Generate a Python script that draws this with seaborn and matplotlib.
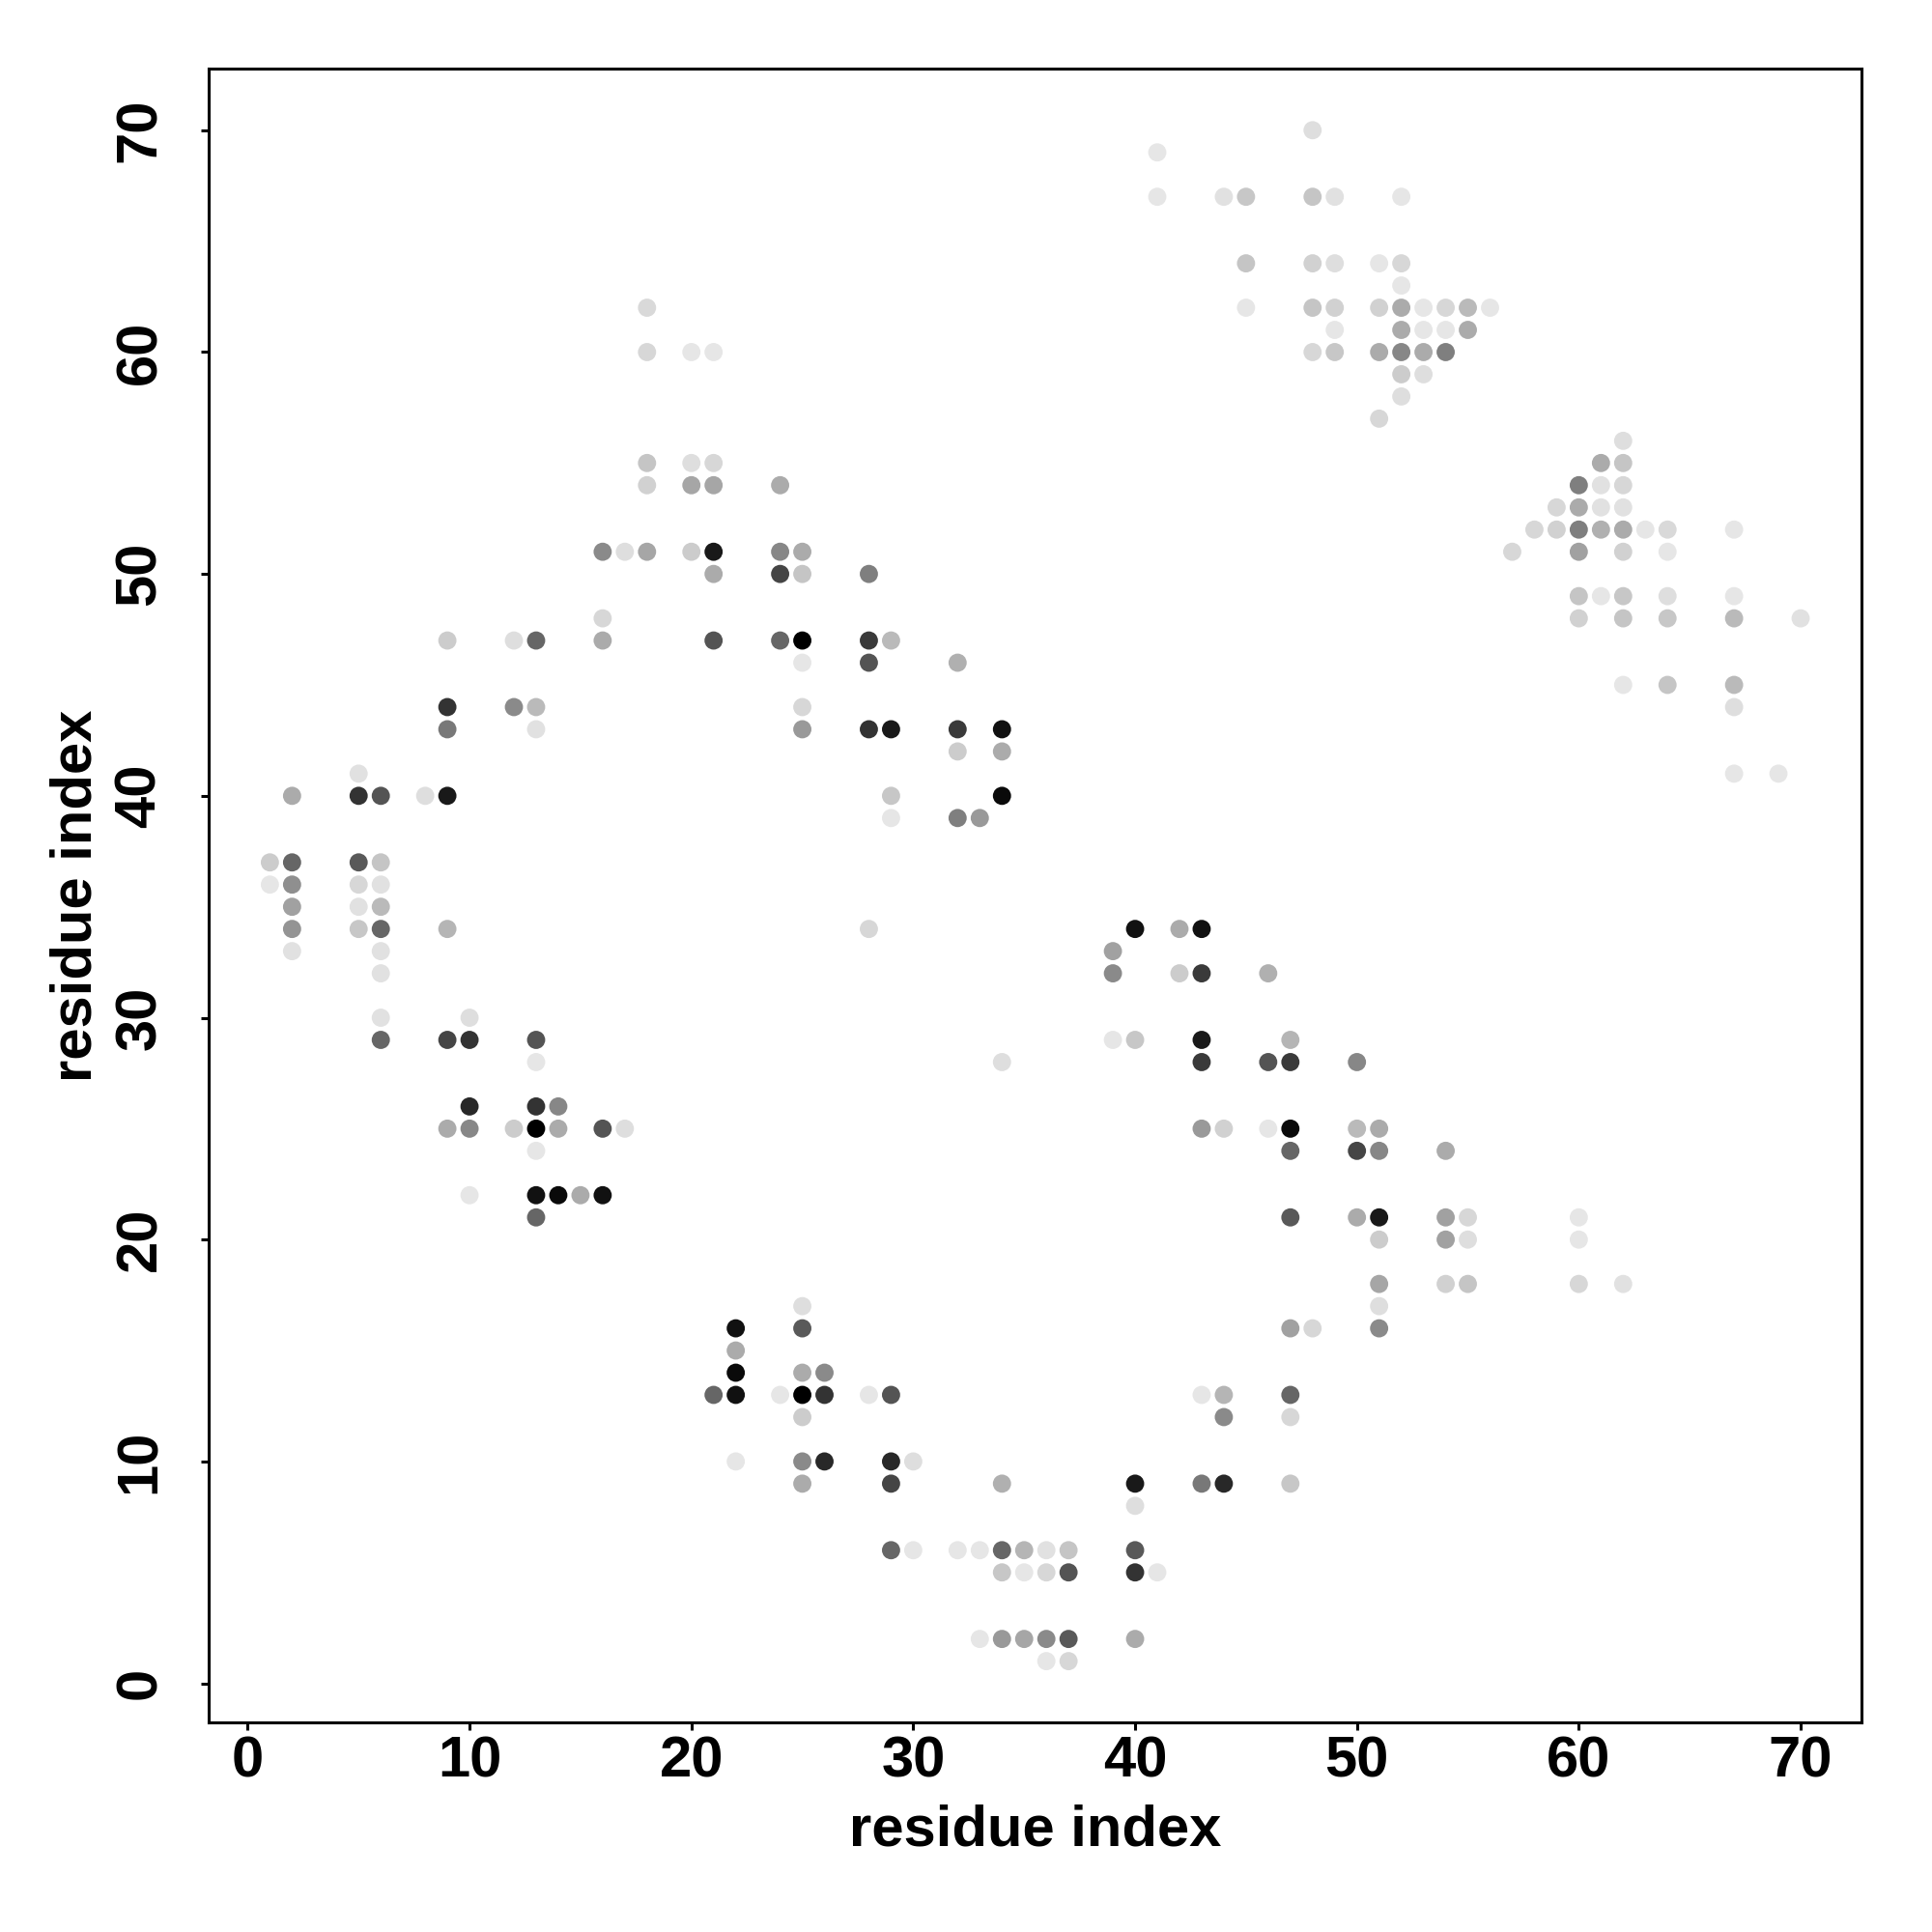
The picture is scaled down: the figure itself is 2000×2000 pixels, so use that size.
import matplotlib
matplotlib.use("Agg")
import matplotlib.pyplot as plt
import seaborn as sns
import pandas as pd

# contact map: residue i, residue j, contact strength (0 = white, 1 = black)
res_i = [1, 1,
         2, 2, 2, 2, 2, 2,
         5, 5, 5, 5, 5, 5,
         6, 6, 6, 6, 6, 6, 6, 6, 6,
         8,
         9, 9, 9, 9, 9, 9, 9,
         10, 10, 10, 10, 10,
         12, 12, 12,
         13, 13, 13, 13, 13, 13, 13, 13, 13, 13,
         14, 14, 14,
         15,
         16, 16, 16, 16, 16,
         17, 17,
         18, 18, 18, 18, 18,
         20, 20, 20, 20,
         21, 21, 21, 21, 21, 21, 21,
         22, 22, 22, 22, 22,
         24, 24, 24, 24, 24,
         25, 25, 25, 25, 25, 25, 25, 25, 25, 25, 25, 25, 25,
         26, 26, 26,
         28, 28, 28, 28, 28, 28,
         29, 29, 29, 29, 29, 29, 29, 29,
         30, 30,
         32, 32, 32, 32, 32,
         33, 33, 33,
         34, 34, 34, 34, 34, 34, 34, 34,
         35, 35, 35,
         36, 36, 36, 36,
         37, 37, 37, 37,
         39, 39, 39,
         40, 40, 40, 40, 40, 40, 40,
         41, 41, 41,
         42, 42,
         43, 43, 43, 43, 43, 43, 43,
         44, 44, 44, 44, 44,
         45, 45, 45,
         46, 46, 46,
         47, 47, 47, 47, 47, 47, 47, 47, 47,
         48, 48, 48, 48, 48, 48,
         49, 49, 49, 49, 49,
         50, 50, 50, 50,
         51, 51, 51, 51, 51, 51, 51, 51, 51, 51, 51,
         52, 52, 52, 52, 52, 52, 52, 52,
         53, 53, 53, 53,
         54, 54, 54, 54, 54, 54, 54,
         55, 55, 55, 55, 55,
         56, 57, 58,
         59, 59,
         60, 60, 60, 60, 60, 60, 60, 60, 60,
         61, 61, 61, 61, 61,
         62, 62, 62, 62, 62, 62, 62, 62, 62, 62,
         63,
         64, 64, 64, 64, 64,
         67, 67, 67, 67, 67, 67,
         69, 70]

res_j = [37, 36,
         40, 37, 36, 35, 34, 33,
         41, 40, 37, 36, 35, 34,
         40, 37, 36, 35, 34, 33, 32, 30, 29,
         40,
         47, 44, 43, 40, 34, 29, 25,
         30, 29, 26, 25, 22,
         47, 44, 25,
         47, 44, 43, 29, 28, 26, 25, 24, 22, 21,
         26, 25, 22,
         22,
         51, 48, 47, 25, 22,
         51, 25,
         62, 60, 55, 54, 51,
         60, 55, 54, 51,
         60, 55, 54, 51, 50, 47, 13,
         16, 15, 14, 13, 10,
         54, 51, 50, 47, 13,
         51, 50, 47, 46, 44, 43, 17, 16, 14, 13, 12, 10, 9,
         14, 13, 10,
         50, 47, 46, 43, 34, 13,
         47, 43, 40, 39, 13, 10, 9, 6,
         10, 6,
         46, 43, 42, 39, 6,
         39, 6, 2,
         43, 42, 40, 28, 9, 6, 5, 2,
         6, 5, 2,
         6, 5, 2, 1,
         6, 5, 2, 1,
         33, 32, 29,
         34, 29, 9, 8, 6, 5, 2,
         69, 67, 5,
         34, 32,
         34, 32, 29, 28, 25, 13, 9,
         67, 25, 13, 12, 9,
         67, 64, 62,
         32, 28, 25,
         29, 28, 25, 24, 21, 16, 13, 12, 9,
         70, 67, 64, 62, 60, 16,
         67, 64, 62, 61, 60,
         28, 25, 24, 21,
         64, 62, 60, 57, 25, 24, 21, 20, 18, 17, 16,
         67, 64, 63, 62, 61, 60, 59, 58,
         62, 61, 60, 59,
         62, 61, 60, 24, 21, 20, 18,
         62, 61, 21, 20, 18,
         62, 51, 52,
         53, 52,
         54, 53, 52, 51, 49, 48, 21, 20, 18,
         55, 54, 53, 52, 49,
         56, 55, 54, 53, 52, 51, 49, 48, 45, 18,
         52,
         52, 51, 49, 48, 45,
         52, 49, 48, 45, 44, 41,
         41, 48]

strength = [0.20, 0.10,
            0.33, 0.60, 0.44, 0.37, 0.42, 0.12,
            0.12, 0.80, 0.65, 0.16, 0.12, 0.22,
            0.67, 0.23, 0.12, 0.27, 0.60, 0.12, 0.12, 0.12, 0.60,
            0.13,
            0.20, 0.80, 0.53, 0.90, 0.29, 0.73, 0.33,
            0.13, 0.80, 0.84, 0.47, 0.10,
            0.13, 0.46, 0.20,
            0.60, 0.27, 0.12, 0.67, 0.10, 0.80, 1.00, 0.10, 0.93, 0.60,
            0.47, 0.33, 0.96,
            0.33,
            0.46, 0.16, 0.33, 0.67, 0.93,
            0.13, 0.13,
            0.15, 0.16, 0.23, 0.18, 0.35,
            0.10, 0.13, 0.35, 0.20,
            0.10, 0.16, 0.35, 0.90, 0.33, 0.67, 0.60,
            0.93, 0.33, 0.96, 0.93, 0.10,
            0.33, 0.47, 0.73, 0.60, 0.10,
            0.33, 0.23, 1.00, 0.10, 0.16, 0.40, 0.13, 0.65, 0.33, 1.00, 0.20, 0.46, 0.33,
            0.46, 0.80, 0.84,
            0.50, 0.77, 0.67, 0.80, 0.16, 0.10,
            0.27, 0.90, 0.22, 0.10, 0.67, 0.84, 0.73, 0.60,
            0.13, 0.10,
            0.31, 0.77, 0.20, 0.50, 0.10,
            0.40, 0.10, 0.10,
            0.93, 0.33, 0.96, 0.13, 0.31, 0.60, 0.22, 0.40,
            0.29, 0.10, 0.35,
            0.12, 0.16, 0.46, 0.10,
            0.23, 0.67, 0.65, 0.16,
            0.37, 0.46, 0.10,
            0.93, 0.22, 0.90, 0.13, 0.65, 0.80, 0.33,
            0.10, 0.10, 0.10,
            0.33, 0.20,
            0.93, 0.77, 0.90, 0.77, 0.40, 0.10, 0.53,
            0.12, 0.18, 0.29, 0.46, 0.84,
            0.22, 0.23, 0.10,
            0.31, 0.67, 0.10,
            0.29, 0.77, 0.96, 0.60, 0.65, 0.37, 0.60, 0.16, 0.22,
            0.13, 0.23, 0.18, 0.23, 0.16, 0.16,
            0.12, 0.13, 0.18, 0.10, 0.22,
            0.47, 0.27, 0.73, 0.33,
            0.10, 0.18, 0.33, 0.16, 0.33, 0.47, 0.90, 0.20, 0.35, 0.13, 0.46,
            0.10, 0.16, 0.10, 0.33, 0.33, 0.47, 0.20, 0.13,
            0.10, 0.10, 0.33, 0.13,
            0.16, 0.10, 0.50, 0.33, 0.37, 0.37, 0.18,
            0.27, 0.33, 0.16, 0.13, 0.23,
            0.10, 0.16, 0.16,
            0.16, 0.18,
            0.50, 0.33, 0.50, 0.37, 0.23, 0.18, 0.10, 0.10, 0.16,
            0.33, 0.12, 0.12, 0.31, 0.10,
            0.13, 0.23, 0.16, 0.12, 0.33, 0.18, 0.22, 0.23, 0.10, 0.12,
            0.10,
            0.15, 0.10, 0.13, 0.22, 0.23,
            0.10, 0.10, 0.27, 0.27, 0.13, 0.10,
            0.10, 0.12]

ticks = [0, 10, 20, 30, 40, 50, 60, 70]

df = pd.DataFrame({"i": res_i, "j": res_j, "p": strength})

sns.set_theme(style="white")
plt.rcParams['font.family'] = ['Liberation Sans', 'DejaVu Sans']
plt.rcParams['font.weight'] = 'bold'
plt.rcParams['text.color'] = 'black'
plt.rcParams['axes.labelcolor'] = 'black'
plt.rcParams['xtick.color'] = 'black'
plt.rcParams['ytick.color'] = 'black'

fig = plt.figure(figsize=(10, 10), dpi=200)
ax = fig.add_axes([0.108, 0.1085, 0.8557, 0.8558])

sns.scatterplot(data=df, x="i", y="j", hue="p", palette="gray_r",
                hue_norm=(0, 1), s=46, linewidth=0, legend=False, ax=ax)

# R style 4% padding around the data range
ax.set_xlim(-1.76, 72.76)
ax.set_ylim(-1.76, 72.76)
ax.set_xticks(ticks)
ax.set_yticks(ticks)
ax.set_xticklabels([str(t) for t in ticks], fontsize=21.5, fontweight='bold', color='black')
ax.set_yticklabels([str(t) for t in ticks], fontsize=21.5, fontweight='bold', color='black',
                   rotation=90, va='center')

for sp in ax.spines.values():
    sp.set_visible(True)
    sp.set_color('black')
    sp.set_linewidth(1.1)

ax.tick_params(axis='x', direction='out', length=2.9, width=1.1, color='black', pad=1.8,
               bottom=True)
ax.tick_params(axis='y', direction='out', length=2.9, width=1.1, color='black', pad=12.6,
               left=True)

ax.set_xlabel('residue index', fontsize=21.5, fontweight='bold', labelpad=6, color='black')
ax.set_ylabel('residue index', fontsize=21.5, fontweight='bold', labelpad=4, color='black')

fig.savefig('out.png', dpi=200, facecolor='white')
